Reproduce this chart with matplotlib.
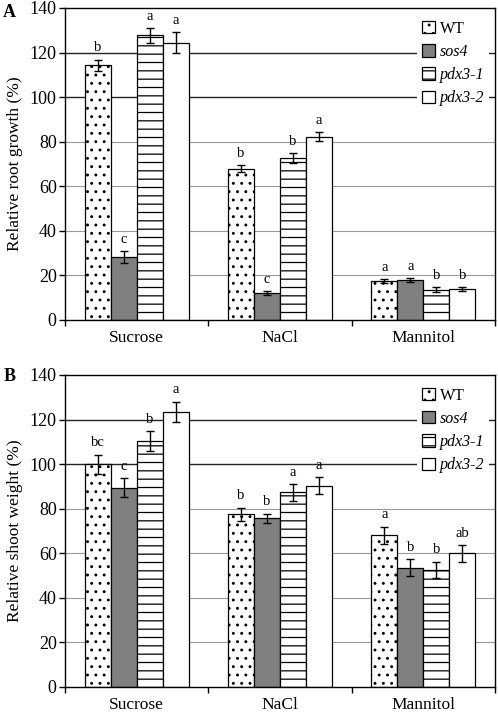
import matplotlib

matplotlib.use("Agg")
import matplotlib.pyplot as plt
import numpy as np

plt.rcParams.update({"font.family": ["Liberation Serif", "DejaVu Serif"],
                     "hatch.linewidth": 0.9, "hatch.color": "black"})

categories = ["Sucrose", "NaCl", "Mannitol"]
genotypes = ["WT", "sos4", "pdx3-1", "pdx3-2"]

# panel A: relative root growth (%), one row per genotype
root_mean = [[114.2, 67.8, 17.5], [28.2, 12.0, 17.8],
             [127.7, 72.7, 13.5], [124.4, 82.2, 13.8]]
root_err = [[2.6, 1.6, 0.9], [2.8, 0.8, 0.9],
            [3.2, 2.3, 1.1], [4.7, 2.1, 0.8]]
root_letters = [["b", "b", "a"], ["c", "c", "a"],
                ["a", "b", "b"], ["a", "a", "b"]]

# panel B: relative shoot weight (%)
shoot_mean = [[99.9, 77.4, 68.1], [89.5, 75.6, 53.6],
              [110.3, 87.3, 52.7], [123.4, 90.4, 59.9]]
shoot_err = [[4.3, 3.1, 3.9], [4.3, 2.2, 3.8],
             [4.5, 3.8, 3.6], [4.6, 3.7, 3.8]]
shoot_letters = [["bc", "b", "a"], ["c", "b", "b"],
                 ["b", "a", "b"], ["a", "a", "ab"]]

styles = [dict(color="white", hatch=".."), dict(color="#808080", hatch=""),
          dict(color="white", hatch="--"), dict(color="white", hatch="")]
yticks = [0, 20, 40, 60, 80, 100, 120, 140]


def panel(ax, means, errs, letters, ylabel):
    x = np.arange(len(categories))
    w = 0.181
    for i, g in enumerate(genotypes):
        xs = x + (i - 1.5) * w
        ax.bar(xs, means[i], w, facecolor=styles[i]["color"], hatch=styles[i]["hatch"],
               edgecolor="black", lw=0.9, label=g, zorder=2)
        ax.errorbar(xs, means[i], yerr=errs[i], fmt="none", ecolor="black",
                    elinewidth=1.0, capsize=3, capthick=1.0, zorder=3)
        for xi, m, e, t in zip(xs, means[i], errs[i], letters[i]):
            ax.annotate(t, (xi, m + e), xytext=(0, 6), textcoords="offset points",
                        ha="center", va="baseline", fontsize=10.5)
    for v in yticks[1:-1]:
        dark = v >= 100
        ax.axhline(v, color="#222222" if dark else "#9a9a9a",
                   lw=1.0 if dark else 0.8, zorder=0)
    ax.set_xlim(-0.5, 2.5)
    ax.set_ylim(0, 140)
    ax.set_yticks(yticks)
    ax.set_xticks(x)
    ax.set_xticklabels(categories)
    ax.set_xticks([-0.5, 0.5, 1.5, 2.5], minor=True)
    ax.tick_params(axis="x", which="major", length=0, pad=7, labelsize=12.5)
    ax.tick_params(axis="x", which="minor", length=4, direction="out", width=1)
    ax.tick_params(axis="y", length=4, direction="out", width=1, labelsize=13, pad=2)
    for s in ax.spines.values():
        s.set_linewidth(1.0)
    ax.set_ylabel(ylabel, fontsize=12.5, labelpad=5)
    leg = ax.legend(loc="upper left", bbox_to_anchor=(0.8, 1.0), fontsize=11.5,
                    handlelength=0.8, handleheight=0.8, handletextpad=0.35,
                    labelspacing=0.45, borderpad=0.3, fancybox=False, framealpha=1,
                    facecolor="white", edgecolor="none")
    leg.set_zorder(5)
    for t in leg.get_texts()[1:]:
        t.set_fontstyle("italic")


fig = plt.figure(figsize=(4.98, 7.13), dpi=100)
axa = fig.add_axes([0.1305, 0.5512, 0.8635, 0.4376])
axb = fig.add_axes([0.1305, 0.0365, 0.8635, 0.4376])
panel(axa, root_mean, root_err, root_letters, "Relative root growth (%)")
panel(axb, shoot_mean, shoot_err, shoot_letters, "Relative shoot weight (%)")
fig.text(0.018, 0.983, "A", fontsize=13, weight="bold", ha="center", va="center")
fig.text(0.019, 0.472, "B", fontsize=13, weight="bold", ha="center", va="center")
fig.savefig("out.png", dpi=100)
